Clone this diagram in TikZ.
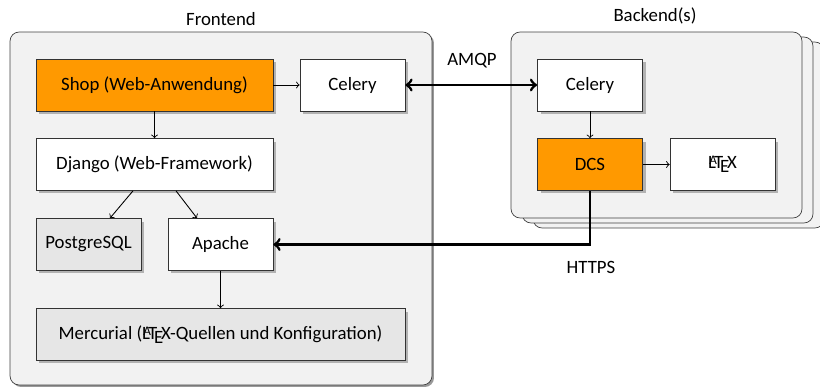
\documentclass[tikz,border=0pt]{standalone}
\usepackage{fontspec}
\setmainfont{Carlito}
\usetikzlibrary{shadows}

\definecolor{shoporange}{HTML}{FF9900}
\definecolor{boxgray}{HTML}{E6E6E6}
\definecolor{areagray}{HTML}{F2F2F2}

\begin{document}
\begin{tikzpicture}[x=0.02cm, y=-0.02cm, font=\fontsize{10.7}{13}\selectfont,
    box/.style={draw=black!80, fill=white, minimum height=1.04cm, minimum width=2.1cm,
        drop shadow={shadow xshift=0.06cm, shadow yshift=-0.06cm, fill=black!30, opacity=1}},
    area/.style={draw=black!75, fill=areagray, rounded corners=0.18cm},
    thin arrow/.style={->, line width=0.5pt},
    thick arrow/.style={line width=1.6pt}]
    \useasboundingbox (0,0) rectangle (820,388);

    % frontend and backend areas
    \node[area, minimum width=8.44cm, minimum height=7.06cm,
        drop shadow={shadow xshift=0.04cm, shadow yshift=-0.04cm, fill=black!40, opacity=1}] (front) at (221, 208.5) {};
    \node (frontlabel) at (221, 19) {Frontend};
    \node[area, minimum width=5.82cm, minimum height=3.72cm] (back3) at (678.5, 135) {};
    \node[area, minimum width=5.82cm, minimum height=3.72cm] (back2) at (667.5, 130) {};
    \node[area, minimum width=5.82cm, minimum height=3.72cm] (back) at (656.5, 125) {};
    \node (backlabel) at (655, 16) {Backend(s)};

    % frontend nodes
    \node[box, fill=shoporange, minimum width=4.74cm] (shop) at (154.5, 85) {Shop (Web-Anwendung)};
    \node[box] (celeryf) at (352.5, 85) {Celery};
    \node[box, minimum width=4.74cm] (django) at (154.5, 164.5) {Django (Web-Framework)};
    \node[box, fill=boxgray] (postgres) at (88.5, 244.5) {PostgreSQL};
    \node[box] (apache) at (220.5, 244.5) {Apache};
    \node[box, fill=boxgray, minimum width=7.38cm] (hg) at (220.5, 334.5) {Mercurial (\LaTeX-Quellen und Konfiguration)};

    % backend nodes
    \node[box] (celeryb) at (590, 85) {Celery};
    \node[box, fill=shoporange] (dcs) at (590, 164.5) {DCS};
    \node[box] (latex) at (722.5, 164.5) {\LaTeX};

    \draw[thin arrow] (shop) -- (celeryf);
    \draw[thin arrow] (shop) -- (django);
    \draw[thin arrow] (django.south -| 133, 0) -- (postgres.north -| 110, 0);
    \draw[thin arrow] (django.south -| 176, 0) -- (apache.north -| 197, 0);
    \draw[thin arrow] (apache) -- (hg);
    \draw[thin arrow] (celeryb) -- (dcs);
    \draw[thin arrow] (dcs) -- (latex);

    \draw[thick arrow, <->] (celeryf) -- (celeryb);
    \node (amqp) at (472, 61) {AMQP};
    \draw[thick arrow, ->] (dcs.south) |- (apache.east);
    \node (https) at (591, 267) {HTTPS};

\end{tikzpicture}
\end{document}
